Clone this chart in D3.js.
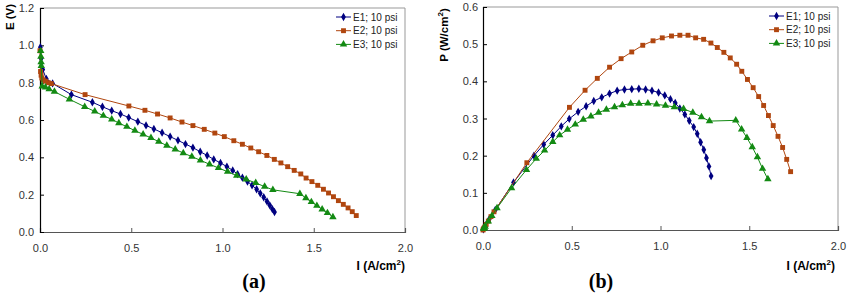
<!DOCTYPE html>
<html>
<head>
<meta charset="utf-8">
<script src="https://cdn.jsdelivr.net/npm/d3@7"></script>
<style>
  body { margin: 0; background: #fff; }
  svg { display: block; font-family: "Liberation Sans", Arial, sans-serif; }
  .tick text { font-family: "Liberation Sans", Arial, sans-serif; font-size: 11px; fill: #333; }
</style>
</head>
<body>
<div id="chart"></div>
<script>
// ---- data ----
var e1_I = [0.002, 0.006, 0.015, 0.035, 0.069, 0.172, 0.287, 0.342, 0.393, 0.441, 0.486, 0.536, 0.581, 0.624, 0.669, 0.713, 0.756, 0.797, 0.838, 0.878, 0.916, 0.952, 0.989, 1.024, 1.056, 1.083, 1.109, 1.137, 1.162, 1.187, 1.207, 1.226, 1.244, 1.259, 1.273, 1.285];
var e1_E = [0.99, 0.93, 0.87, 0.82, 0.796, 0.736, 0.695, 0.671, 0.65, 0.632, 0.613, 0.591, 0.571, 0.552, 0.532, 0.511, 0.491, 0.471, 0.452, 0.43, 0.41, 0.389, 0.37, 0.35, 0.33, 0.31, 0.291, 0.27, 0.25, 0.229, 0.207, 0.186, 0.164, 0.143, 0.123, 0.107];
var e1_P = [0.002, 0.006, 0.013, 0.029, 0.054, 0.128, 0.2, 0.23, 0.255, 0.279, 0.299, 0.318, 0.333, 0.347, 0.357, 0.367, 0.375, 0.378, 0.379, 0.38, 0.378, 0.375, 0.37, 0.362, 0.352, 0.342, 0.327, 0.311, 0.294, 0.277, 0.259, 0.236, 0.216, 0.194, 0.171, 0.145];

var e2_I = [0.0, 0.003, 0.006, 0.01, 0.018, 0.03, 0.045, 0.062, 0.247, 0.487, 0.575, 0.644, 0.713, 0.778, 0.838, 0.9, 0.958, 1.01, 1.062, 1.109, 1.155, 1.198, 1.243, 1.284, 1.32, 1.357, 1.393, 1.429, 1.458, 1.49, 1.522, 1.553, 1.581, 1.608, 1.635, 1.662, 1.688, 1.711, 1.733];
var e2_E = [0.971, 0.86, 0.84, 0.825, 0.815, 0.808, 0.8, 0.795, 0.736, 0.675, 0.652, 0.632, 0.611, 0.589, 0.57, 0.55, 0.53, 0.511, 0.489, 0.47, 0.45, 0.43, 0.41, 0.389, 0.37, 0.35, 0.33, 0.311, 0.289, 0.27, 0.25, 0.229, 0.209, 0.189, 0.168, 0.148, 0.129, 0.109, 0.088];
var e2_P = [0.0, 0.003, 0.005, 0.008, 0.015, 0.024, 0.036, 0.049, 0.181, 0.33, 0.376, 0.408, 0.438, 0.461, 0.479, 0.497, 0.509, 0.517, 0.522, 0.524, 0.524, 0.517, 0.513, 0.503, 0.491, 0.478, 0.463, 0.446, 0.427, 0.405, 0.383, 0.359, 0.335, 0.308, 0.281, 0.252, 0.222, 0.19, 0.157];

var e3_I = [0.004, 0.005, 0.006, 0.007, 0.012, 0.03, 0.05, 0.079, 0.161, 0.245, 0.3, 0.347, 0.393, 0.432, 0.476, 0.52, 0.565, 0.608, 0.651, 0.695, 0.741, 0.785, 0.832, 0.879, 0.929, 0.978, 1.028, 1.078, 1.13, 1.182, 1.231, 1.276, 1.424, 1.457, 1.487, 1.517, 1.546, 1.575, 1.605];
var e3_E = [0.97, 0.94, 0.91, 0.89, 0.78, 0.775, 0.765, 0.752, 0.711, 0.671, 0.646, 0.623, 0.604, 0.584, 0.564, 0.543, 0.523, 0.504, 0.484, 0.463, 0.443, 0.423, 0.404, 0.384, 0.363, 0.343, 0.323, 0.302, 0.282, 0.263, 0.243, 0.226, 0.205, 0.182, 0.161, 0.141, 0.121, 0.102, 0.08];
var e3_P = [0.004, 0.005, 0.005, 0.006, 0.009, 0.023, 0.038, 0.059, 0.113, 0.162, 0.192, 0.214, 0.237, 0.255, 0.27, 0.284, 0.297, 0.306, 0.316, 0.324, 0.331, 0.336, 0.34, 0.34, 0.341, 0.338, 0.335, 0.331, 0.326, 0.316, 0.304, 0.293, 0.295, 0.271, 0.248, 0.223, 0.196, 0.165, 0.137];

var series_names = ["E1; 10 psi", "E2; 10 psi", "E3; 10 psi"];
var series_colors = ["#000080", "#b0460f", "#138a13"];
var series_symbols = [d3.symbolDiamond, d3.symbolSquare, d3.symbolTriangle];
var series_sizes = [20, 24, 24];

var x_ticks = [0, 0.5, 1.0, 1.5, 2.0];
var e_ticks = [0, 0.2, 0.4, 0.6, 0.8, 1.0, 1.2];
var p_ticks = [0, 0.1, 0.2, 0.3, 0.4, 0.5, 0.6];

var width = 852, height = 294;

var svg = d3.select("#chart").append("svg")
    .attr("width", width)
    .attr("height", height);

svg.append("rect").attr("width", width).attr("height", height).attr("fill", "#fff");

function zip(I, Y) {
    return I.map(function (d, i) { return [d, Y[i]]; });
}

function draw_panel(opt) {
    var x = d3.scaleLinear().domain([0, 2]).range([opt.left, opt.right]);
    var y = d3.scaleLinear().domain([0, opt.ymax]).range([opt.bottom, opt.top]);

    var g = svg.append("g");

    // frame (top/right)
    g.append("path")
        .attr("d", `M${opt.left},${opt.top}H${opt.right}V${opt.bottom}`)
        .attr("fill", "none")
        .attr("stroke", "#999")
        .attr("stroke-width", 1);

    var xa = g.append("g")
        .attr("transform", `translate(0,${opt.bottom})`)
        .call(d3.axisBottom(x).tickValues(x_ticks).tickFormat(d3.format(".1f")).tickSize(-4).tickPadding(12));
    xa.select(".domain").attr("stroke", "#555").attr("stroke-width", 1.2);
    xa.selectAll(".tick line").attr("stroke", "#555");

    var ya = g.append("g")
        .attr("transform", `translate(${opt.left},0)`)
        .call(d3.axisLeft(y).tickValues(opt.yticks).tickFormat(d3.format(".1f")).tickSize(-4).tickPadding(opt.ypad));
    ya.select(".domain").attr("stroke", "#000").attr("stroke-width", 1.2);

    var line = d3.line().x(d => x(d[0])).y(d => y(d[1]));

    opt.data.forEach(function (pts, k) {
        g.append("path")
            .datum(pts)
            .attr("d", line)
            .attr("fill", "none")
            .attr("stroke", series_colors[k])
            .attr("stroke-width", 1);
        g.selectAll(null)
            .data(pts)
            .enter().append("path")
            .attr("transform", d => `translate(${x(d[0])},${y(d[1])})`)
            .attr("d", d3.symbol().type(series_symbols[k]).size(series_sizes[k]))
            .attr("fill", series_colors[k]);
    });

    // legend
    series_names.forEach(function (name, k) {
        var ly = opt.legY + k * 13.7;
        g.append("line")
            .attr("x1", opt.legX).attr("x2", opt.legX + 15)
            .attr("y1", ly).attr("y2", ly)
            .attr("stroke", series_colors[k]);
        g.append("path")
            .attr("transform", `translate(${opt.legX + 7.5},${ly})`)
            .attr("d", d3.symbol().type(series_symbols[k]).size(series_sizes[k]))
            .attr("fill", series_colors[k]);
        g.append("text")
            .attr("x", opt.legX + 17).attr("y", ly + 3.5)
            .attr("font-size", 10)
            .attr("fill", "#222")
            .text(name);
    });

    // y title
    g.append("text")
        .attr("transform", `translate(${opt.ytX},${opt.ytY}) rotate(-90)`)
        .attr("text-anchor", "middle")
        .attr("font-size", 11.5)
        .attr("font-weight", "bold")
        .html(opt.ytitle);

    // x title
    g.append("text")
        .attr("x", opt.xtX).attr("y", 270)
        .attr("text-anchor", "end")
        .attr("font-size", 12)
        .attr("font-weight", "bold")
        .html('I (A/cm<tspan dy="-5" font-size="8">2</tspan><tspan dy="5">)</tspan>');

    // panel letter
    g.append("text")
        .attr("x", opt.letX).attr("y", 288)
        .attr("text-anchor", "middle")
        .attr("font-family", "'Liberation Serif', 'Times New Roman', serif")
        .attr("font-size", 20)
        .attr("font-weight", "bold")
        .text(opt.letter);
}

draw_panel({
    left: 40, right: 405, top: 8, bottom: 232, ymax: 1.2, yticks: e_ticks, ypad: 6,
    data: [zip(e1_I, e1_E), zip(e2_I, e2_E), zip(e3_I, e3_E)],
    legX: 336, legY: 17,
    ytitle: "E (V)", ytX: 14, ytY: 17,
    xtX: 405, letX: 254, letter: "(a)"
});

draw_panel({
    left: 483, right: 838, top: 7, bottom: 230, ymax: 0.6, yticks: p_ticks, ypad: 5,
    data: [zip(e1_I, e1_P), zip(e2_I, e2_P), zip(e3_I, e3_P)],
    legX: 769, legY: 16,
    ytitle: 'P (W/cm<tspan dy="-5" font-size="8">2</tspan><tspan dy="5">)</tspan>', ytX: 448, ytY: 35,
    xtX: 835, letX: 601, letter: "(b)"
});
</script>
</body>
</html>
